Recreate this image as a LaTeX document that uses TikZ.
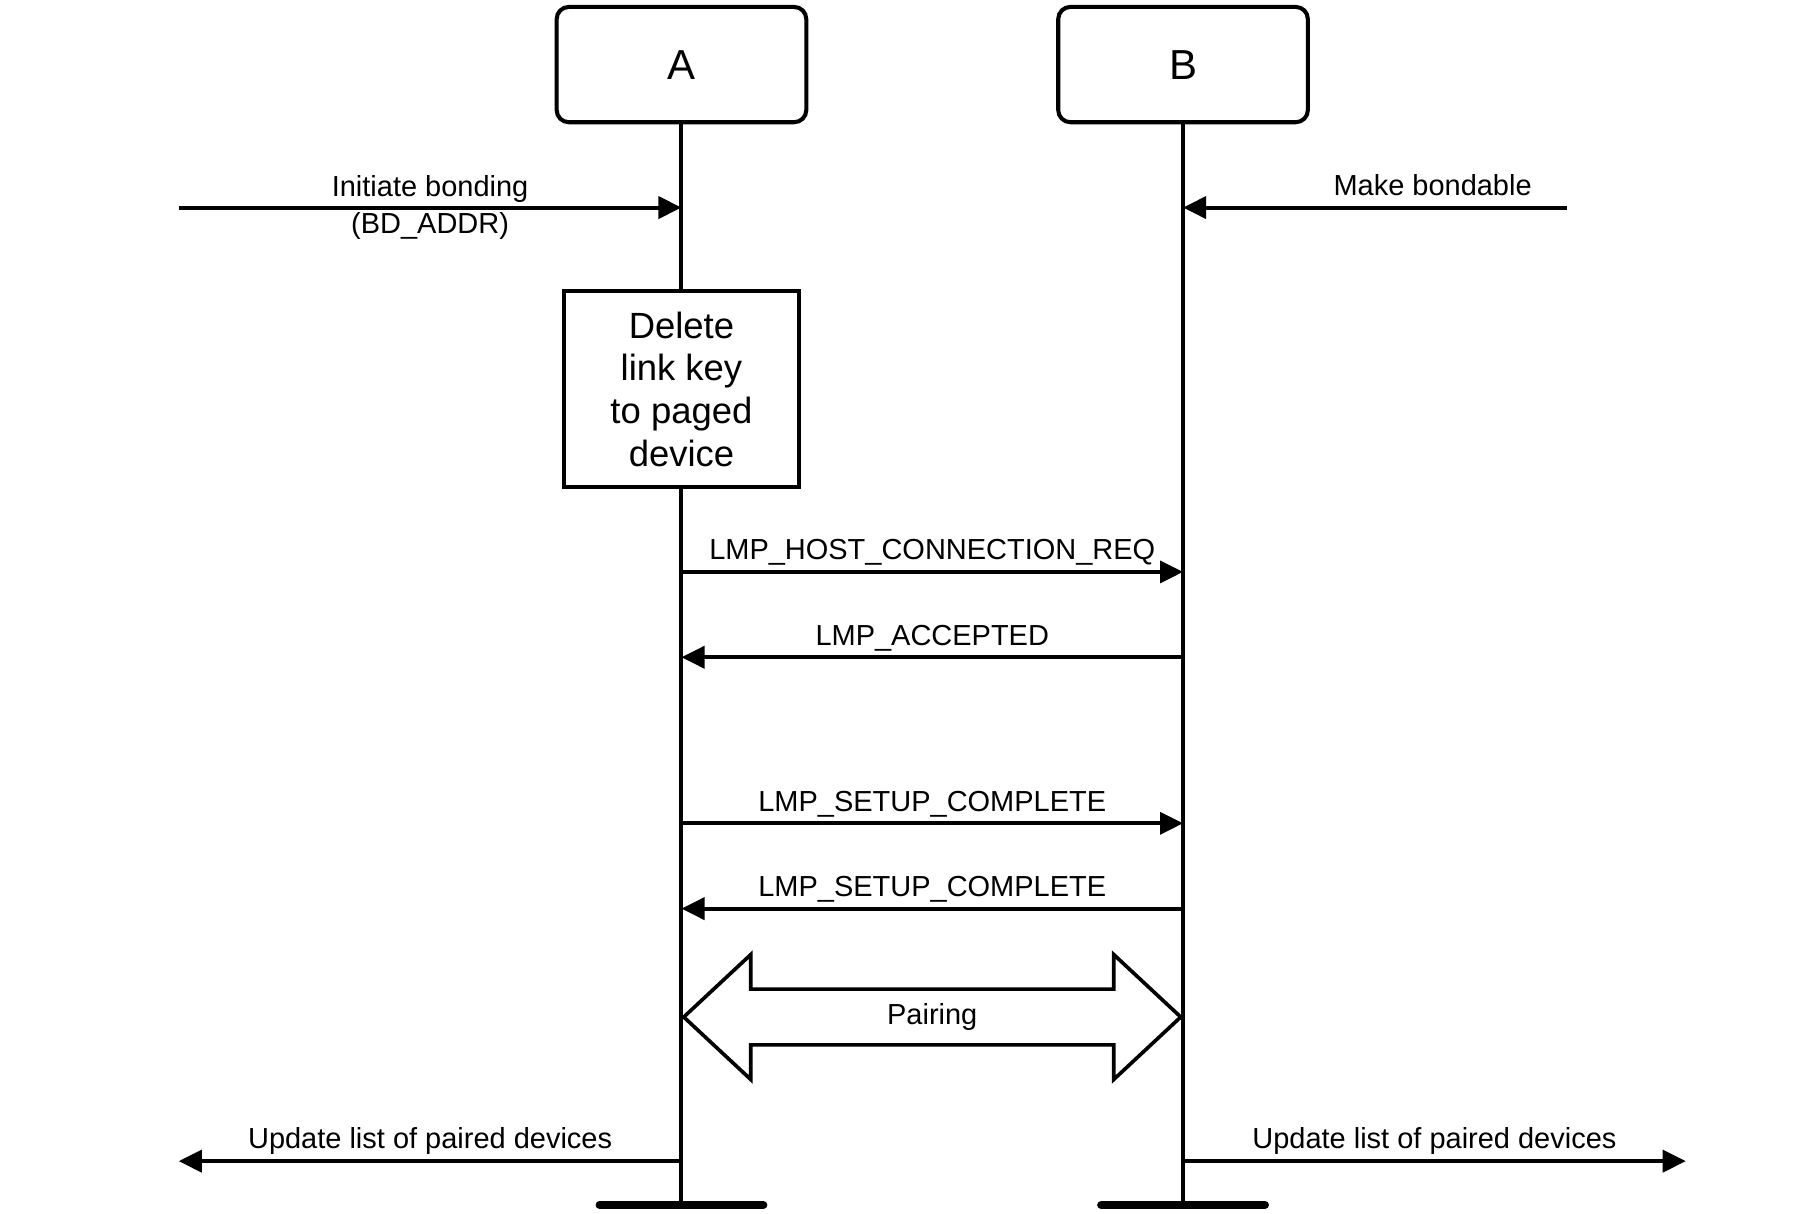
\documentclass[tikz,border=0pt]{standalone}
\usepackage{fontspec}
\setmainfont{Liberation Sans}
\usetikzlibrary{arrows.meta,shapes.arrows}

\begin{document}
\begin{tikzpicture}[
    dev/.style={
        rectangle,
        rounded corners=6pt,
        draw,
        line width=2pt,
        minimum width=4.33cm,
        minimum height=2.0cm,
        font=\fontsize{20.7}{24}\selectfont
    },
    action/.style={
        rectangle,
        draw,
        fill=white,
        line width=2pt,
        minimum width=4.07cm,
        minimum height=3.39cm,
        align=center,
        font=\fontsize{18}{21}\selectfont
    },
    life/.style={line width=2pt},
    bar/.style={line width=4pt, line cap=round},
    msg/.style={-{Triangle[length=0.4cm,width=0.38cm]}, line width=2pt},
    lbl/.style={above, inner sep=2pt, text depth=3pt, font=\fontsize{14.3}{17}\selectfont},
    pairarrow/.style={
        double arrow,
        draw,
        fill=white,
        line width=1.8pt,
        minimum height=8.62cm,
        minimum width=2.16cm,
        double arrow head extend=0.6cm,
        double arrow tip angle=86,
        inner xsep=0pt,
        inner ysep=6.2pt,
        font=\fontsize{14.3}{17}\selectfont
    }
]
\useasboundingbox (0,0) rectangle (31.36,-21.04);

\node[dev] (devA) at (11.82,-1.12) {A};
\node[dev] (devB) at (20.52,-1.12) {B};

% points on the lifelines
\foreach \n/\y in {ib/3.6, hcr/9.92, acc/11.4, sc1/14.28, sc2/15.76, upd/20.14, end/20.9} {
    \coordinate (a-\n) at (11.82,-\y);
    \coordinate (b-\n) at (20.52,-\y);
}
\coordinate (ibstart) at (3.1,-3.6);
\coordinate (mbstart) at (27.18,-3.6);
\coordinate (updL) at (3.1,-20.14);
\coordinate (updR) at (29.24,-20.14);

\draw[life] (devA) -- (a-end);
\draw[life] (devB) -- (b-end);
\draw[bar] ([xshift=-1.42cm]a-end) -- ([xshift=1.42cm]a-end);
\draw[bar] ([xshift=-1.42cm]b-end) -- ([xshift=1.42cm]b-end);

\draw[msg] (ibstart) -- node[align=center, font=\fontsize{14.3}{18.5}\selectfont] {Initiate bonding\\(BD\_ADDR)} (a-ib);
\draw[msg] (mbstart) -- node[lbl, pos=0.35] {Make bondable} (b-ib);

\node[action] (del) at (11.82,-6.75) {Delete\\link key\\to paged\\device};

\draw[msg] (a-hcr) -- node[lbl] {LMP\_HOST\_CONNECTION\_REQ} (b-hcr);
\draw[msg] (b-acc) -- node[lbl] {LMP\_ACCEPTED} (a-acc);
\draw[msg] (a-sc1) -- node[lbl] {LMP\_SETUP\_COMPLETE} (b-sc1);
\draw[msg] (b-sc2) -- node[lbl] {LMP\_SETUP\_COMPLETE} (a-sc2);

\node[pairarrow] (pairing) at (16.17,-17.64) {Pairing};

\draw[msg] (a-upd) -- node[lbl] {Update list of paired devices} (updL);
\draw[msg] (b-upd) -- node[lbl] {Update list of paired devices} (updR);

\end{tikzpicture}
\end{document}
